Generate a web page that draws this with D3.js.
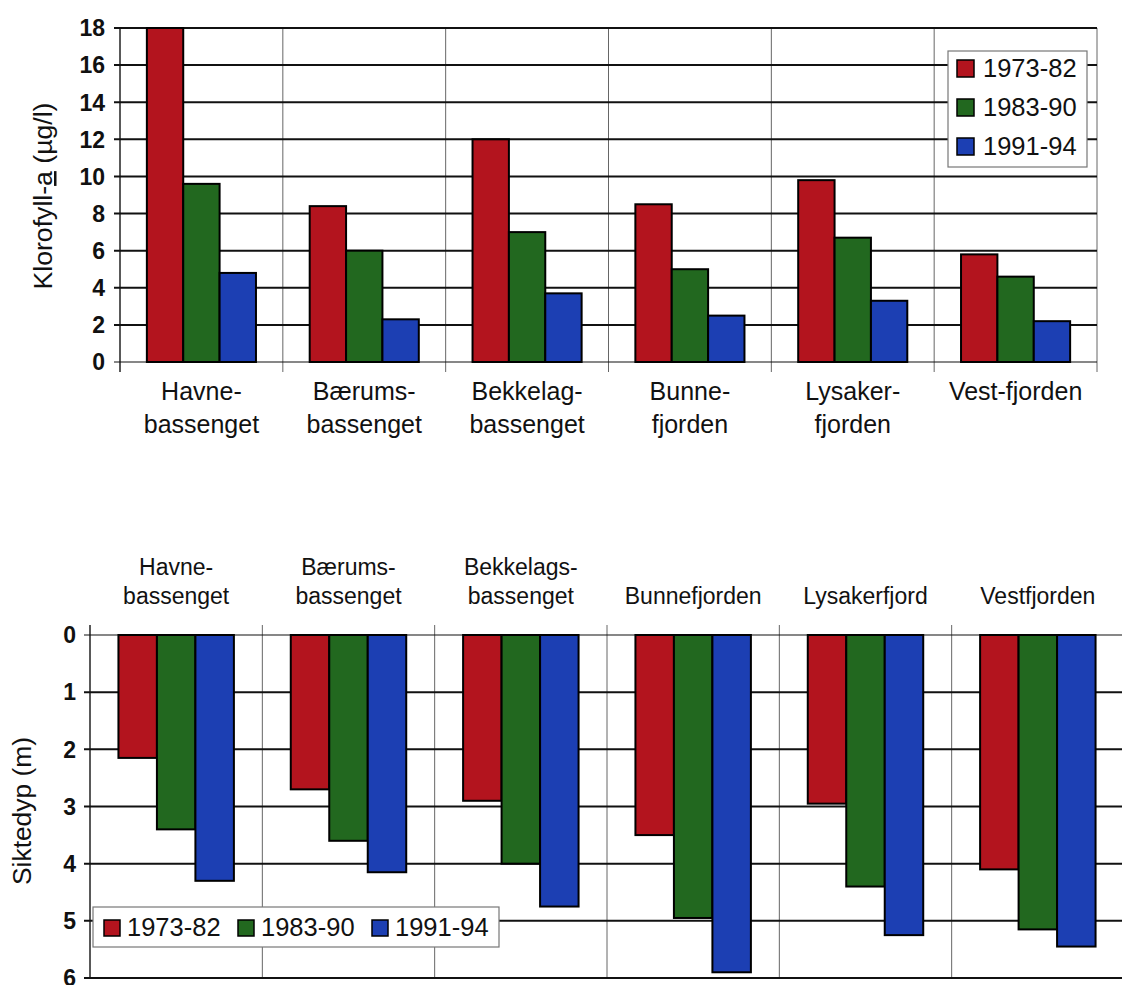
<!DOCTYPE html>
<html><head><meta charset="utf-8">
<script src="https://cdn.jsdelivr.net/npm/d3@7"></script>
<style>body{margin:0;background:#fff}svg{display:block;font-family:"Liberation Sans",Arial,sans-serif}</style>
</head><body><svg id="c" width="1122" height="985"></svg>
<script>
const series = ["1973-82","1983-90","1991-94"];
const colors = ["#b3141e","#22681f","#1c3fb3"];
const topCats = [["Havne-","bassenget"],["Bærums-","bassenget"],["Bekkelag-","bassenget"],["Bunne-","fjorden"],["Lysaker-","fjorden"],["Vest-fjorden"]];
const chl7382 = [18.0, 8.4, 12.0, 8.5, 9.8, 5.8];
const chl8390 = [9.6, 6.0, 7.0, 5.0, 6.7, 4.6];
const chl9194 = [4.8, 2.3, 3.7, 2.5, 3.3, 2.2];
const chlTicks = [0,2,4,6,8,10,12,14,16,18];
const botCats = [["Havne-","bassenget"],["Bærums-","bassenget"],["Bekkelags-","bassenget"],["Bunnefjorden"],["Lysakerfjord"],["Vestfjorden"]];
const sec7382 = [2.15, 2.7, 2.9, 3.5, 2.95, 4.1];
const sec8390 = [3.4, 3.6, 4.0, 4.95, 4.4, 5.15];
const sec9194 = [4.3, 4.15, 4.75, 5.9, 5.25, 5.45];
const secTicks = [0,1,2,3,4,5,6];

const svg = d3.select("#c");

function chart(o){
  const g = svg.append("g");
  const idx = d3.range(o.cats.length);
  const x = d3.scaleBand().domain(idx).range([o.x0,o.x1]).padding(0);
  const xi = d3.scaleBand().domain(d3.range(3)).range([x.bandwidth()*0.165, x.bandwidth()*0.835]).padding(0);
  const y = d3.scaleLinear().domain(o.domain).range(o.yr);
  g.selectAll(".div").data(d3.range(o.cats.length+1)).join("line")
    .attr("x1",i=>i<o.cats.length?x(i):o.x1).attr("x2",i=>i<o.cats.length?x(i):o.x1)
    .attr("y1",o.divY0).attr("y2",o.divY1)
    .attr("stroke",i=>i===0?"#222":"#666").attr("stroke-width",i=>i===0?1.5:1);
  g.selectAll(".grid").data(o.ticks).join("line")
    .attr("x1",o.x0-6).attr("x2",o.gridEnd).attr("y1",d=>y(d)).attr("y2",d=>y(d))
    .attr("stroke","#111").attr("stroke-width",d=>d===o.baseTick?1.2:2);
  g.selectAll(".tl").data(o.ticks).join("text")
    .attr("x",o.x0-o.tlOff).attr("y",d=>y(d)).attr("dy","0.36em")
    .attr("text-anchor","end").attr("font-size",o.tfs).attr("font-weight","bold").attr("fill","#111")
    .text(d=>d);
  const data = [];
  idx.forEach(i=>o.vals.forEach((arr,s)=>data.push({i,s,v:arr[i]})));
  g.selectAll(".bar").data(data).join("rect")
    .attr("x",d=>x(d.i)+xi(d.s)).attr("width",xi.bandwidth())
    .attr("y",d=>Math.min(y(0),y(d.v))).attr("height",d=>Math.abs(y(d.v)-y(0)))
    .attr("fill",d=>colors[d.s]).attr("stroke","#000").attr("stroke-width",2);
  const cl = g.selectAll(".cl").data(idx).join("text")
    .attr("text-anchor","middle").attr("font-size",o.cfs).attr("fill","#111")
    .attr("transform",i=>`translate(${x(i)+x.bandwidth()/2},0)`);
  cl.each(function(i){
    const lines=o.cats[i]; const t=d3.select(this);
    const ys = lines.length===2?o.catY:[o.singleY];
    lines.forEach((l,k)=>t.append("tspan").attr("x",0).attr("y",ys[k]).text(l));
  });
  return {x,y,g};
}

// Top chart
chart({cats:topCats, vals:[chl7382,chl8390,chl9194], x0:120, x1:1097, gridEnd:1097,
  domain:[0,18], yr:[362,28], ticks:chlTicks, baseTick:0, divY0:28, divY1:372, tlOff:15, tfs:23,
  cfs:25, catY:[400,433], singleY:400});
svg.append("text").attr("transform","translate(52,196) rotate(-90)").attr("text-anchor","middle")
  .attr("font-size",25).attr("fill","#111").attr("textLength",187).attr("lengthAdjust","spacingAndGlyphs")
  .call(t=>{t.append("tspan").text("Klorofyll-");t.append("tspan").attr("text-decoration","underline").text("a");t.append("tspan").text(" (µg/l)");});

// Top legend
const lg1 = svg.append("g").attr("transform","translate(948,51)");
lg1.append("rect").attr("width",139).attr("height",116).attr("fill","#fff").attr("stroke","#777").attr("stroke-width",1.2);
series.forEach((s,k)=>{
  const r = lg1.append("g").attr("transform",`translate(9,${17+k*39})`);
  r.append("rect").attr("x",0).attr("y",-8).attr("width",17).attr("height",17).attr("fill",colors[k]).attr("stroke","#000").attr("stroke-width",1.5);
  r.append("text").attr("x",26).attr("y",0).attr("dy","0.36em").attr("font-size",25.5).attr("fill","#111").text(s);
});

// Bottom chart
chart({cats:botCats, vals:[sec7382,sec8390,sec9194], x0:90, x1:1124, gridEnd:1122,
  domain:[0,6], yr:[635,978], ticks:secTicks, baseTick:0, divY0:625, divY1:978, tlOff:14, tfs:23,
  cfs:23, catY:[575,604], singleY:604});
svg.append("text").attr("transform","translate(31,811) rotate(-90)").attr("text-anchor","middle")
  .attr("font-size",25).attr("fill","#111").attr("textLength",148).attr("lengthAdjust","spacingAndGlyphs")
  .text("Siktedyp (m)");

// Bottom legend
const lg2 = svg.append("g").attr("transform","translate(93,907)");
lg2.append("rect").attr("width",406).attr("height",40).attr("fill","#fff").attr("stroke","#777").attr("stroke-width",1.2);
const offs=[11,145,279];
series.forEach((s,k)=>{
  const r = lg2.append("g").attr("transform",`translate(${offs[k]},20)`);
  r.append("rect").attr("x",0).attr("y",-7).attr("width",16).attr("height",16).attr("fill",colors[k]).attr("stroke","#000").attr("stroke-width",1.5);
  r.append("text").attr("x",23).attr("y",0).attr("dy","0.36em").attr("font-size",25.5).attr("fill","#111").text(s);
});
</script></body></html>
